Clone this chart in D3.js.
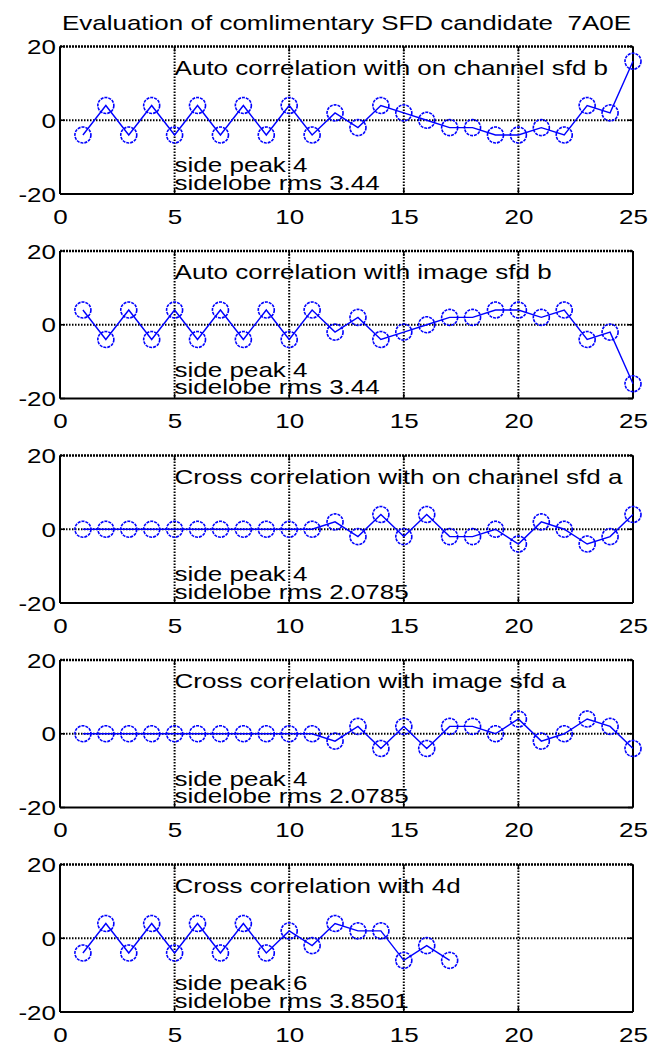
<!DOCTYPE html>
<html><head><meta charset="utf-8">
<script src="https://cdn.jsdelivr.net/npm/d3@7"></script>
<style>
body{margin:0;background:#fff}
svg{display:block}
text{font-family:"Liberation Sans",Arial,Helvetica,sans-serif;fill:#000;white-space:pre}
</style>
</head><body>
<svg id="chart" width="651" height="1045"></svg>
<script>
// ---------------- data ----------------
const chartTitle = "Evaluation of comlimentary SFD candidate  7A0E";
const panelTitles = [
  "Auto correlation with on channel sfd b",
  "Auto correlation with image sfd b",
  "Cross correlation with on channel sfd a",
  "Cross correlation with image sfd a",
  "Cross correlation with 4d"
];
const sidePeakLabels = ["side peak 4", "side peak 4", "side peak 4", "side peak 4", "side peak 6"];
const sidelobeRmsLabels = ["sidelobe rms 3.44", "sidelobe rms 3.44", "sidelobe rms 2.0785", "sidelobe rms 2.0785", "sidelobe rms 3.8501"];
const xTicks = [0, 5, 10, 15, 20, 25];
const yTicks = [-20, 0, 20];

const autoOnChannelB = [-4, 4, -4, 4, -4, 4, -4, 4, -4, 4, -4, 2, -2, 4, 2, 0, -2, -2, -4, -4, -2, -4, 4, 2, 16];
const autoImageB     = [4, -4, 4, -4, 4, -4, 4, -4, 4, -4, 4, -2, 2, -4, -2, 0, 2, 2, 4, 4, 2, 4, -4, -2, -16];
const crossOnChannelA = [0, 0, 0, 0, 0, 0, 0, 0, 0, 0, 0, 2, -2, 4, -2, 4, -2, -2, 0, -4, 2, 0, -4, -2, 4];
const crossImageA     = [0, 0, 0, 0, 0, 0, 0, 0, 0, 0, 0, -2, 2, -4, 2, -4, 2, 2, 0, 4, -2, 0, 4, 2, -4];
const cross4d = [-4, 4, -4, 4, -4, 4, -4, 4, -4, 2, -2, 4, 2, 2, -6, -2, -6];

const seriesList = [autoOnChannelB, autoImageB, crossOnChannelA, crossImageA, cross4d];

// ---------------- layout ----------------
const svg = d3.select("#chart");
const left = 60, right = 633;
const top0 = 46.5, step = 204.5, ph = 147.5;
const SX = 1.30;          // horizontal glyph stretch seen in the reference
const FS = 20;            // font size
const blue = "#0000ff";

const x = d3.scaleLinear().domain([0, 25]).range([left, right]);

function stretchedText(g, tx, ty, str, anchor) {
  return g.append("text")
    .attr("transform", `translate(${tx},${ty}) scale(${SX},1)`)
    .attr("text-anchor", anchor || "start")
    .attr("font-size", FS)
    .text(str);
}

// title
stretchedText(svg, (left + right) / 2, 29.5, chartTitle, "middle");

seriesList.forEach((vals, i) => {
  const top = top0 + i * step;
  const bottom = top + ph;
  const y = d3.scaleLinear().domain([-20, 20]).range([bottom, top]);
  const g = svg.append("g");

  // grid (dotted)
  g.selectAll(".vg").data(xTicks.filter(t => t > 0 && t < 25)).enter().append("line")
    .attr("x1", d => x(d)).attr("x2", d => x(d))
    .attr("y1", top).attr("y2", bottom)
    .attr("stroke", "#000").attr("stroke-width", 2).attr("stroke-dasharray", "1.5,1.5");
  g.selectAll(".hg").data(yTicks.filter(t => t === 0)).enter().append("line")
    .attr("x1", left).attr("x2", right)
    .attr("y1", d => y(d)).attr("y2", d => y(d))
    .attr("stroke", "#000").attr("stroke-width", 2).attr("stroke-dasharray", "1.5,1.5");

  // box
  g.append("line").attr("x1", left).attr("x2", right).attr("y1", top).attr("y2", top)
    .attr("stroke", "#000").attr("stroke-width", 2.5).attr("stroke-dasharray", "2,1");
  g.append("line").attr("x1", left).attr("x2", right).attr("y1", bottom).attr("y2", bottom)
    .attr("stroke", "#000").attr("stroke-width", 2);
  g.append("line").attr("x1", left).attr("x2", left).attr("y1", top).attr("y2", bottom)
    .attr("stroke", "#000").attr("stroke-width", 2);
  g.append("line").attr("x1", right).attr("x2", right).attr("y1", top).attr("y2", bottom)
    .attr("stroke", "#000").attr("stroke-width", 2);

  // x axis labels
  const xa = g.append("g").attr("transform", `translate(0,${bottom})`)
    .call(d3.axisBottom(x).tickValues(xTicks).tickSize(0).tickPadding(0).tickFormat(d => String(d)));
  xa.select(".domain").remove();
  xa.selectAll("text")
    .attr("y", 0).attr("dy", null)
    .attr("transform", `translate(0,29.5) scale(${SX},1)`)
    .attr("font-size", FS).attr("font-family", null).attr("fill", "#000");

  // y axis labels
  const ya = g.append("g").attr("transform", `translate(${left},0)`)
    .call(d3.axisLeft(y).tickValues(yTicks).tickSize(0).tickPadding(0).tickFormat(d => String(d)));
  ya.select(".domain").remove();
  ya.selectAll("text")
    .attr("x", 0).attr("dy", null).attr("y", 0)
    .attr("transform", `translate(-4,7) scale(${SX},1)`)
    .attr("font-size", FS).attr("font-family", null).attr("fill", "#000");

  // small inward ticks
  g.selectAll(".xt").data(xTicks).enter().append("path")
    .attr("d", d => `M${x(d)},${bottom}v-5M${x(d)},${top}v5`)
    .attr("stroke", "#000").attr("stroke-width", 1.5);
  g.selectAll(".yt").data(yTicks).enter().append("path")
    .attr("d", d => `M${left},${y(d)}h5M${right},${y(d)}h-5`)
    .attr("stroke", "#000").attr("stroke-width", 1.5);

  // texts
  stretchedText(g, x(5), y(12.3), panelTitles[i]);
  stretchedText(g, x(5), y(-14.1), sidePeakLabels[i]);
  stretchedText(g, x(5), y(-18.8), sidelobeRmsLabels[i]);

  // series
  const pts = vals.map((v, k) => [k + 1, v]);
  const line = d3.line().x(d => x(d[0])).y(d => y(d[1]));
  g.append("path").datum(pts).attr("d", line)
    .attr("fill", "none").attr("stroke", blue).attr("stroke-width", 1.4);
  g.selectAll(".m").data(pts).enter().append("circle")
    .attr("cx", d => x(d[0])).attr("cy", d => y(d[1]))
    .attr("r", 8)
    .attr("fill", "none").attr("stroke", blue).attr("stroke-width", 1.6)
    .attr("stroke-dasharray", "3,1");
});
</script>
</body></html>
